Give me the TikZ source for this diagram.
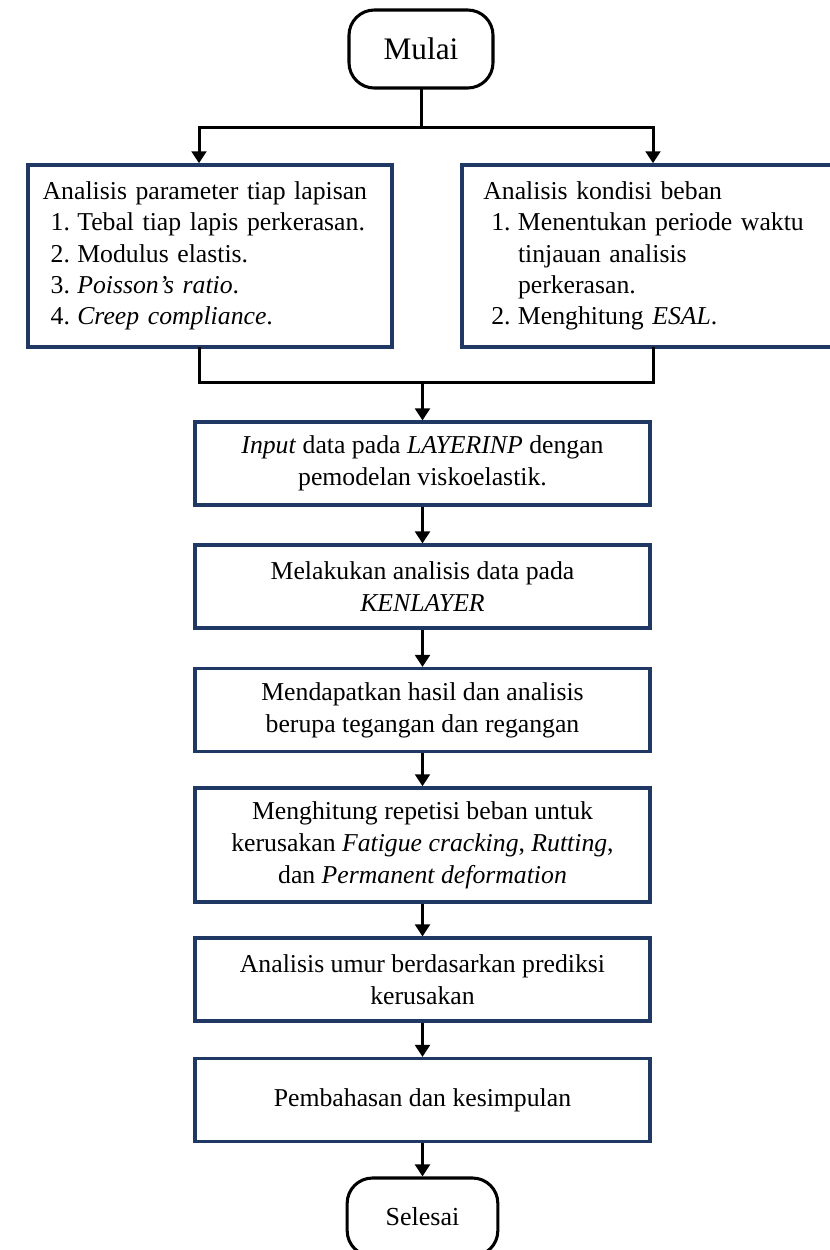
\documentclass[tikz,border=0pt]{standalone}
\usepackage{fontspec}
\setmainfont{Liberation Serif}
\usetikzlibrary{arrows.meta}
\definecolor{biru}{HTML}{1F3864}
\newcommand{\butir}[2]{\hspace*{6pt}\makebox[20pt][l]{#1}#2}

\begin{document}
\begin{tikzpicture}[x=0.75pt, y=-0.75pt,
  kotak/.style={draw=biru, line width=2.6pt, fill=white, align=center,
    minimum width=341pt, minimum height=62pt, inner sep=4pt,
    font=\fontsize{19.3}{24}\selectfont},
  daftar/.style={kotak, align=left, minimum width=0pt, minimum height=136.5pt,
    font=\fontsize{19.3}{23.4}\selectfont},
  terminal/.style={draw, line width=2.3pt, rounded corners=19pt, minimum height=58.5pt},
  garis/.style={line width=2.25pt, line cap=rect},
  panah/.style={line width=2.25pt, -{Triangle[width=11pt,length=9pt]}}]
  \useasboundingbox (0,0) rectangle (830,1250);
  \clip (0,0) rectangle (830,1250);
  % mulai
  \node[terminal, minimum width=108pt, font=\fontsize{23.5}{28}\selectfont] (mulai) at (421,49) {Mulai};
  % dua kotak analisis awal
  \node[daftar, text width=251pt, inner xsep=11pt] (param) at (210,256) {%
    Analisis parameter tiap lapisan\\
    \butir{1.}{Tebal tiap lapis perkerasan.}\\
    \butir{2.}{Modulus elastis.}\\
    \butir{3.}{\textit{Poisson’s ratio}.}\\
    \butir{4.}{\textit{Creep compliance}.}};
  \node[daftar, text width=256pt, inner xsep=16pt] (beban) at (654,256) {%
    Analisis kondisi beban\\
    \butir{1.}{Menentukan periode waktu}\\
    \hspace*{26pt}tinjauan analisis\\
    \hspace*{26pt}perkerasan.\\
    \butir{2.}{Menghitung \textit{ESAL}.}};
  % langkah utama
  \node[kotak] (input) at (422.5,463.5) {\textit{Input} data pada \textit{LAYERINP} dengan\\ pemodelan viskoelastik.};
  \node[kotak] (olah) at (422.5,586.5) {Melakukan analisis data pada\\ \textit{KENLAYER}};
  \node[kotak] (hasil) at (422.5,710) {Mendapatkan hasil dan analisis\\ berupa tegangan dan regangan};
  \node[kotak, minimum height=85.5pt] (repetisi) at (422.5,845) {Menghitung repetisi beban untuk\\
    kerusakan \textit{Fatigue cracking}, \textit{Rutting},\\ dan \textit{Permanent deformation}};
  \node[kotak] (umur) at (422.5,979.5) {Analisis umur berdasarkan prediksi\\ kerusakan};
  \node[kotak] (bahas) at (422.5,1100) {Pembahasan dan kesimpulan};
  % selesai
  \node[terminal, minimum width=113pt, font=\fontsize{19.5}{24}\selectfont] (selesai) at (422.5,1217) {Selesai};
  % titik belok
  \coordinate (atasKiri) at (199,127);
  \coordinate (atasKanan) at (653,127);
  \coordinate (bawahKiri) at (199,382);
  \coordinate (bawahKanan) at (653,382);
  % percabangan atas
  \draw[garis] (mulai.south) -- (mulai.south |- atasKiri);
  \draw[garis] (atasKiri) -- (atasKanan);
  \draw[panah] (atasKiri) -- (atasKiri |- param.north);
  \draw[panah] (atasKanan) -- (atasKanan |- beban.north);
  % penggabungan
  \draw[garis] (atasKiri |- param.south) -- (bawahKiri) -- (bawahKanan) -- (atasKanan |- beban.south);
  \draw[panah] (bawahKiri -| input.north) -- (input.north);
  % alur ke bawah
  \draw[panah] (input.south) -- (olah.north);
  \draw[panah] (olah.south) -- (hasil.north);
  \draw[panah] (hasil.south) -- (repetisi.north);
  \draw[panah] (repetisi.south) -- (umur.north);
  \draw[panah] (umur.south) -- (bahas.north);
  \draw[panah] (bahas.south) -- (selesai.north);
\end{tikzpicture}
\end{document}
